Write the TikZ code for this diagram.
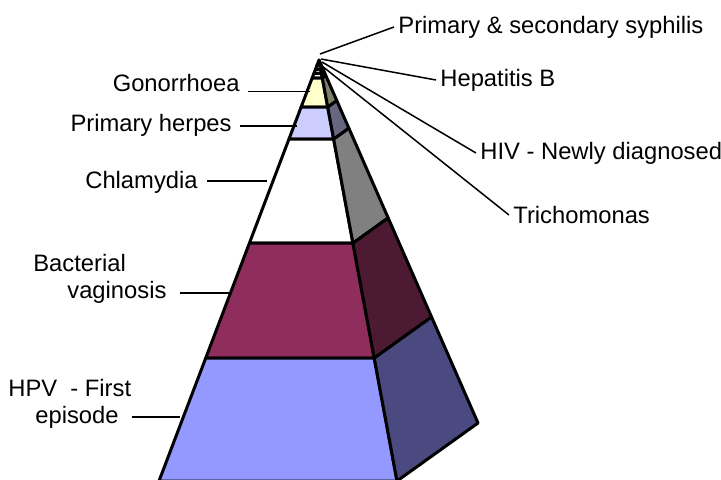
\documentclass[tikz,border=0pt]{standalone}
\usepackage{fontspec}
\setmainfont{Liberation Sans}
\usetikzlibrary{calc}

\definecolor{topF}{HTML}{FFFFFF}
\definecolor{topS}{HTML}{808080}
\definecolor{gonF}{HTML}{FFFFCC}
\definecolor{gonS}{HTML}{808066}
\definecolor{herpF}{HTML}{CCCCFF}
\definecolor{herpS}{HTML}{666680}
\definecolor{chlF}{HTML}{FFFFFF}
\definecolor{chlS}{HTML}{808080}
\definecolor{bvF}{HTML}{8F2D5C}
\definecolor{bvS}{HTML}{4D1A33}
\definecolor{hpvF}{HTML}{9499FF}
\definecolor{hpvS}{HTML}{4A4A80}

\begin{document}
\begin{tikzpicture}[
  x=0.5pt, y=-0.5pt,
  plabel/.style={inner sep=2pt, font=\fontsize{11.88}{13.5}\selectfont},
  pleader/.style={line width=0.75pt, black},
  pedge/.style={draw=black, line width=1.5pt, line join=round},
]
  \useasboundingbox (0,0) rectangle (721,479);
  \clip (0,0) rectangle (721,479);

  %% ── Pyramid corners ─────────────────────────────────────────
  \coordinate (A) at (319,60);
  \coordinate (L) at (159,481);
  \coordinate (M) at (397,481);
  \coordinate (R) at (478,423);

  %% ── Bands (front face, side face) ───────────────────────────
  \foreach \ta/\tb/\cf/\cs in {0/0.012/topF/topS, 0.012/0.022/topF/topS,
      0.022/0.032/topF/topS, 0.032/0.043/topF/topS,
      0.043/0.112/gonF/gonS, 0.112/0.188/herpF/herpS,
      0.188/0.435/chlF/chlS, 0.435/0.708/bvF/bvS, 0.708/1/hpvF/hpvS}
  {
    \filldraw[pedge, fill=\cf] ($(A)!\ta!(L)$) -- ($(A)!\tb!(L)$)
      -- ($(A)!\tb!(M)$) -- ($(A)!\ta!(M)$) -- cycle;
    \filldraw[pedge, fill=\cs] ($(A)!\ta!(M)$) -- ($(A)!\tb!(M)$)
      -- ($(A)!\tb!(R)$) -- ($(A)!\ta!(R)$) -- cycle;
  }

  %% ── Left labels ─────────────────────────────────────────────
  \node[plabel, inner xsep=4pt, anchor=east] (gon) at (248,83) {Gonorrhoea};
  \node[plabel, inner xsep=4pt, anchor=east] (herp) at (240,125) {Primary herpes};
  \node[plabel, inner xsep=4.5pt, anchor=east] (chl) at (207,182) {Chlamydia};
  \node[plabel, inner xsep=6.5pt, anchor=west, align=left] (bv) at (20,279)
    {Bacterial\\\hspace*{17pt}vaginosis};
  \node[plabel, inner xsep=0pt, anchor=west, align=left] (hpv) at (8,404)
    {HPV\ \ - First\\\hspace*{13.5pt}episode};

  \coordinate (gonEnd) at (310,91);
  \coordinate (herpEnd) at (297,126);
  \coordinate (chlEnd) at (267,181);
  \coordinate (bvEnd) at (229,293);
  \coordinate (hpvEnd) at (180,417);

  \draw[pleader] (gon.base east) -- (gonEnd |- gon.base east);
  \foreach \n in {herp, chl, bv, hpv}
    \draw[pleader] (\n.east |- \n End) -- (\n End);

  %% ── Right labels ────────────────────────────────────────────
  \node[plabel, anchor=west] (syph) at (394,27) {Primary \& secondary syphilis};
  \node[plabel, anchor=west] (hepb) at (436,80) {Hepatitis B};
  \node[plabel, anchor=west] (hiv) at (476,153) {HIV - Newly diagnosed};
  \node[plabel, anchor=west] (trich) at (509,215) {Trichomonas};

  \coordinate (syphTip) at (320,54);
  \coordinate (hepbTip) at (321,59);
  \coordinate (hivTip) at (322,62);
  \coordinate (trichTip) at (322,66);

  \foreach \n in {syph, hepb, hiv, trich}
    \draw[pleader] (\n Tip) -- (\n.west);

\end{tikzpicture}
\end{document}
